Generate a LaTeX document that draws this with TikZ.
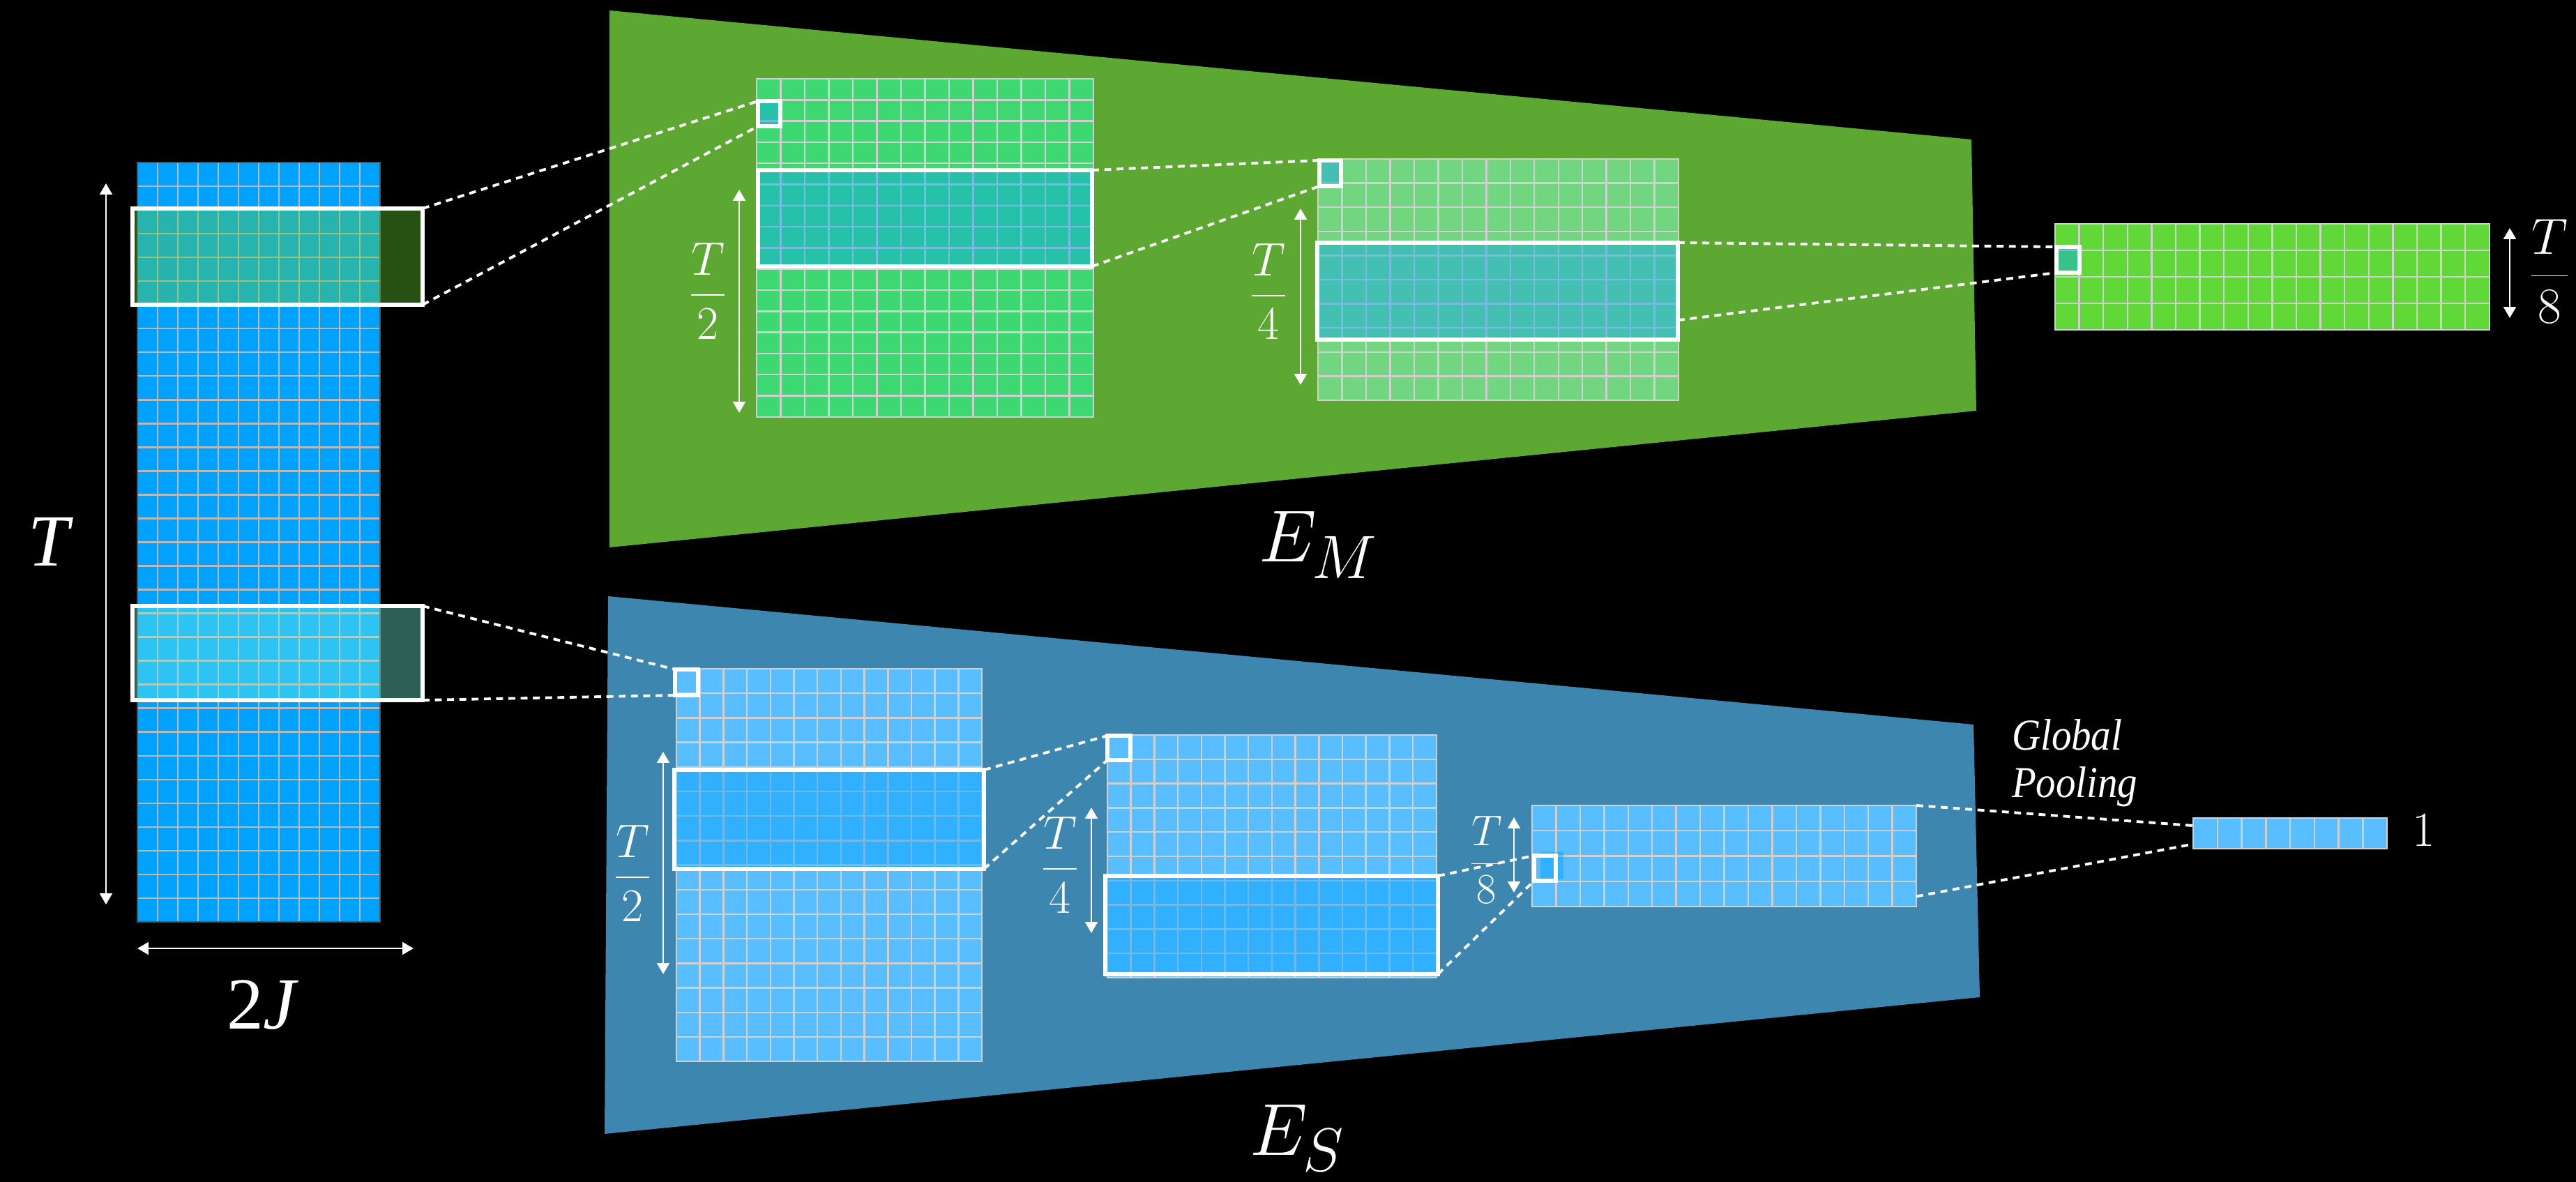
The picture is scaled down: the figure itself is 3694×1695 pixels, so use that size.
\documentclass[tikz,border=0pt]{standalone}
\usepackage{fontspec}
\usetikzlibrary{arrows.meta,calc,fit}
\newfontfamily\timesf{Liberation Serif}
\newfontfamily\timescond[FakeStretch=0.9]{Liberation Serif}

\definecolor{encgreen}{RGB}{93,168,51}
\definecolor{encblue}{RGB}{60,134,176}
\definecolor{inblue}{RGB}{0,162,255}
\definecolor{gA}{RGB}{61,216,114}
\definecolor{gB}{RGB}{114,214,128}
\definecolor{gC}{RGB}{96,216,56}
\definecolor{bcell}{RGB}{88,190,255}
\definecolor{lineA}{RGB}{185,185,185}
\definecolor{edgeA}{RGB}{85,85,85}
\definecolor{lineB}{RGB}{208,208,208}
\definecolor{ovgreen}{RGB}{103,210,51}
\definecolor{ovteal}{RGB}{120,250,225}
\definecolor{ovblue}{RGB}{7,164,241}
\definecolor{ovdeep}{RGB}{0,160,255}

\tikzset{
  gridbody/.style={rectangle, inner sep=0pt, outer sep=0pt, anchor=north west, draw=none},
  gline/.style={line width=0.7pt},
  hlbox/.style={rectangle, inner sep=0pt, outer sep=0pt, draw=white, line width=1.5pt},
  sqbox/.style={rectangle, inner sep=0pt, outer sep=0pt, draw=white, line width=1.6pt},
  dashline/.style={draw=white, line width=1.1pt, dash pattern=on 2.8pt off 2.2pt},
  dimarrow/.style={draw=white, line width=0.8pt, {Triangle[length=4.5pt,width=5pt]}-{Triangle[length=4.5pt,width=5pt]}},
  lbl/.style={text=white, inner sep=0pt, outer sep=0pt},
  fracfont/.style={font=\fontsize{20.74}{25}\selectfont, scale=0.925},
  bigfont/.style={font=\fontsize{24.88}{30}\selectfont, scale=1.206},
}

% name, x0, y0, ncols, nrows, cell width, cell height, fill, line colour
\newcommand\cellgrid[9]{%
  \node[gridbody, fill=#8, minimum width=#4*#6*0.01cm, minimum height=#5*#7*0.01cm] (#1) at (#2,#3) {};
  \pgfmathtruncatemacro\gnc{#4-1}%
  \pgfmathtruncatemacro\gnr{#5-1}%
  \foreach \i in {1,...,\gnc} {\draw[gline, draw=#9] ($(#1.north west)+(\i*#6,0)$) -- ($(#1.south west)+(\i*#6,0)$);}
  \foreach \j in {1,...,\gnr} {\draw[gline, draw=#9] ($(#1.north west)+(0,\j*#7)$) -- ($(#1.north east)+(0,\j*#7)$);}
  \draw[gline, draw=#9] (#1.north west) rectangle (#1.south east);
}

\begin{document}
\begin{tikzpicture}[x=0.01cm, y=-0.01cm]
\fill[black] (0,0) rectangle (3694,1695);
\useasboundingbox (0,0) rectangle (3694,1695);

% encoders
\fill[encgreen] (874,15) -- (2827,200) -- (2834,589) -- (874,785) -- cycle;
\fill[encblue] (872,855) -- (2830,1039) -- (2839,1430) -- (867,1626) -- cycle;

% grids
\cellgrid{gin}{197}{233}{12}{32}{29}{34.03}{inblue}{lineA}
\draw[gline, draw=edgeA] (gin.north west) rectangle (gin.south east);
\cellgrid{gm1}{1085}{113}{14}{16}{34.5}{30.3}{gA}{lineB}
\cellgrid{gm2}{1890}{228}{15}{10}{34.47}{34.6}{gB}{lineB}
\cellgrid{gm3}{2947}{321}{18}{4}{34.6}{38}{gC}{lineB}
\cellgrid{gs1}{970}{959}{13}{16}{33.7}{35.2}{bcell}{lineB}
\cellgrid{gs2}{1588}{1054}{14}{10}{33.7}{34.8}{bcell}{lineB}
\cellgrid{gs3}{2197}{1155}{16}{4}{34.44}{36.25}{bcell}{lineB}
\cellgrid{gpool}{3145}{1173}{8}{1}{34.75}{44}{bcell}{lineB}

% highlighted bands
\node[hlbox, fill=ovgreen, fill opacity=0.39, fit={(190,299) (606,437)}] (hA) {};
\node[hlbox, fill=ovteal, fill opacity=0.38, fit={(190,869) (606,1004)}] (hB) {};
\node[hlbox, fill=ovblue, fill opacity=0.44, fit={(1087,244) (1566,382)}] (hM1) {};
\node[hlbox, fill=ovblue, fill opacity=0.44, fit={(1889,348) (2406,487)}] (hM2) {};
\node[hlbox, fill=ovdeep, fill opacity=0.45, fit={(967,1104) (1411,1246)}] (hS1) {};
\node[hlbox, fill=ovdeep, fill opacity=0.45, fit={(1585,1256) (2062,1397)}] (hS2) {};

% small receptive squares
\node[sqbox, fill=ovblue, fill opacity=0.44, fit={(1087,145) (1119,181)}] (qM1) {};
\node[sqbox, fill=ovblue, fill opacity=0.44, fit={(1892,230) (1923,267)}] (qM2) {};
\node[sqbox, fill=ovblue, fill opacity=0.44, fit={(2949,354) (2982,391)}] (qM3) {};
\node[sqbox, fit={(968,960) (1001,997)}] (qS1) {};
\node[sqbox, fit={(1588,1055) (1621,1090)}] (qS2) {};
\fill[ovdeep, opacity=0.45] (2209,1222) rectangle (2242,1261);
\node[sqbox, fit={(2200,1227) (2231,1263)}] (qS3) {};

% dotted connectors
\draw[dashline] (hA.north east) -- (qM1.north west);
\draw[dashline] (hA.south east) -- (qM1.south west);
\draw[dashline] (hB.north east) -- (qS1.north west);
\draw[dashline] (hB.south east) -- (qS1.south west);
\draw[dashline] (hM1.north east) -- (qM2.north west);
\draw[dashline] (hM1.south east) -- (qM2.south west);
\draw[dashline] (hM2.north east) -- (qM3.north west);
\draw[dashline] ($(hM2.north east)!0.8!(hM2.south east)$) -- (qM3.south west);
\draw[dashline] (hS1.north east) -- (qS2.north west);
\draw[dashline] (hS1.south east) -- (qS2.south west);
\draw[dashline] (hS2.north east) -- (qS3.north west);
\draw[dashline] (hS2.south east) -- (qS3.south west);
\draw[dashline] (gs3.north east) -- ($(gpool.north west)!0.25!(gpool.south west)$);
\draw[dashline] ($(gs3.north east)!0.9!(gs3.south east)$) -- ($(gpool.north west)!0.85!(gpool.south west)$);

% dimension arrows
\coordinate (tT) at (152,263);   \coordinate (tB) at (152,1297);
\coordinate (jL) at (197,1360);  \coordinate (jR) at (593,1360);
\coordinate (m2T) at (1060,272); \coordinate (m2B) at (1060,592);
\coordinate (m4T) at (1865,299); \coordinate (m4B) at (1865,552);
\coordinate (m8T) at (3599,327); \coordinate (m8B) at (3599,456);
\coordinate (s2T) at (951,1078); \coordinate (s2B) at (951,1397);
\coordinate (s4T) at (1565,1158); \coordinate (s4B) at (1565,1338);
\coordinate (s8T) at (2171,1172); \coordinate (s8B) at (2171,1280);
\draw[dimarrow] (tT) -- (tB);
\draw[dimarrow] (jL) -- (jR);
\draw[dimarrow] (m2T) -- (m2B);
\draw[dimarrow] (m4T) -- (m4B);
\draw[dimarrow] (m8T) -- (m8B);
\draw[dimarrow] (s2T) -- (s2B);
\draw[dimarrow] (s4T) -- (s4B);
\draw[dimarrow] (s8T) -- (s8B);

% labels
\node[lbl, font=\timesf\itshape\fontsize{30}{36}\selectfont] (labT) at (70,777) {T};
\node[lbl, font=\timesf\fontsize{30}{36}\selectfont] (labJ) at (377,1441) {2\textit{J}};
\node[lbl, fracfont] (fM2) at (1015,417) {$\displaystyle\frac{T}{2}$};
\node[lbl, fracfont] (fM4) at (1819,418) {$\displaystyle\frac{T}{4}$};
\node[lbl, font=\fontsize{20.74}{25}\selectfont] (fM8) at (3656,389) {$\displaystyle\frac{T}{8}$};
\node[lbl, fracfont] (fS2) at (907,1252) {$\displaystyle\frac{T}{2}$};
\node[lbl, fracfont] (fS4) at (1520,1240) {$\displaystyle\frac{T}{4}$};
\node[lbl, font=\fontsize{17.28}{21}\selectfont, scale=1.013] (fS8) at (2132,1233) {$\displaystyle\frac{T}{8}$};
\node[lbl, bigfont, anchor=base west] (lEM) at (1805,806) {$E_M$};
\node[lbl, bigfont, anchor=base west] (lES) at (1792,1656) {$E_S$};
\node[lbl, font=\timescond\itshape\fontsize{18}{20}\selectfont, anchor=base west] (gp1) at (2885,1075) {Global};
\node[lbl, font=\timescond\itshape\fontsize{18}{20}\selectfont, anchor=base west] (gp2) at (2885,1143) {Pooling};
\node[lbl, font=\fontsize{20}{24}\selectfont] (l1) at (3476,1190) {1};
\end{tikzpicture}
\end{document}
